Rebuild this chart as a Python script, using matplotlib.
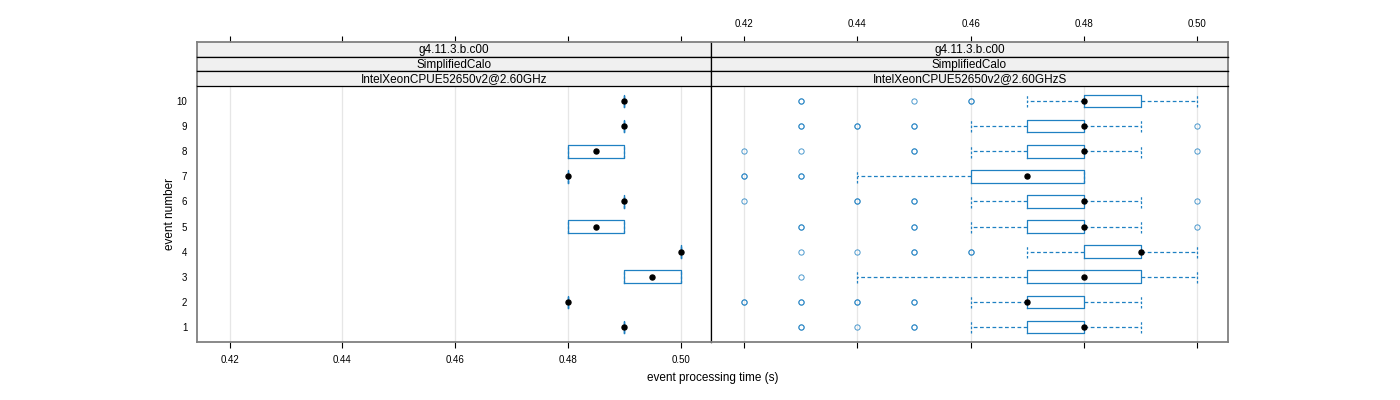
import matplotlib
matplotlib.use("Agg")
import matplotlib.pyplot as plt

plt.rcParams['font.family'] = ['Liberation Sans', 'DejaVu Sans']

# ---------------- data ----------------
events = [1, 2, 3, 4, 5, 6, 7, 8, 9, 10]
tick_values = [0.42, 0.44, 0.46, 0.48, 0.50]
tick_labels = ["0.42", "0.44", "0.46", "0.48", "0.50"]
strip_labels_left = ["g4.11.3.b.c00", "SimplifiedCalo", "IntelXeonCPUE52650v2@2.60GHz"]
strip_labels_right = ["g4.11.3.b.c00", "SimplifiedCalo", "IntelXeonCPUE52650v2@2.60GHzS"]

# left panel (per event 1..10)
left_q1 = [0.49, 0.48, 0.49, 0.50, 0.48, 0.49, 0.48, 0.48, 0.49, 0.49]
left_med = [0.49, 0.48, 0.495, 0.50, 0.485, 0.49, 0.48, 0.485, 0.49, 0.49]
left_q3 = [0.49, 0.48, 0.50, 0.50, 0.49, 0.49, 0.48, 0.49, 0.49, 0.49]

# right panel (per event 1..10)
right_lo = [0.46, 0.46, 0.44, 0.47, 0.46, 0.46, 0.44, 0.46, 0.46, 0.47]
right_q1 = [0.47, 0.47, 0.47, 0.48, 0.47, 0.47, 0.46, 0.47, 0.47, 0.48]
right_med = [0.48, 0.47, 0.48, 0.49, 0.48, 0.48, 0.47, 0.48, 0.48, 0.48]
right_q3 = [0.48, 0.48, 0.49, 0.49, 0.48, 0.48, 0.48, 0.48, 0.48, 0.49]
right_hi = [0.49, 0.49, 0.50, 0.50, 0.49, 0.49, 0.48, 0.49, 0.49, 0.50]
right_out = [
    [0.43, 0.43, 0.44, 0.45, 0.45],
    [0.42, 0.42, 0.43, 0.43, 0.44, 0.44, 0.45, 0.45],
    [0.43],
    [0.43, 0.44, 0.45, 0.45, 0.46, 0.46],
    [0.43, 0.43, 0.45, 0.45, 0.50],
    [0.42, 0.44, 0.44, 0.45, 0.45, 0.50],
    [0.42, 0.42, 0.43, 0.43],
    [0.42, 0.43, 0.45, 0.45, 0.50],
    [0.43, 0.43, 0.44, 0.44, 0.45, 0.45, 0.50],
    [0.43, 0.43, 0.45, 0.46, 0.46],
]

# ---------------- style ----------------
BLUE = "#1f80c2"
GRID = "#e6e6e6"
OUTER = "#808080"
W, H = 1400, 400
XLIM = (0.4142, 0.5054)
YLIM = (0.4, 10.6)

fig = plt.figure(figsize=(14, 4), dpi=100)

px_left, px_mid, px_right = 197, 711, 1228
py_top_strip, py_panel_top, py_panel_bot = 42, 86, 342


def fx(p):
    return p / W


def fy(p):
    return 1 - p / H


axL = fig.add_axes([fx(px_left), fy(py_panel_bot), fx(px_mid - px_left), (py_panel_bot - py_panel_top) / H])
axR = fig.add_axes([fx(px_mid), fy(py_panel_bot), fx(px_right - px_mid), (py_panel_bot - py_panel_top) / H])

box_kw = dict(
    vert=False, widths=0.5, patch_artist=False, manage_ticks=False,
    boxprops=dict(color=BLUE, linewidth=0.9),
    whiskerprops=dict(color=BLUE, linewidth=0.9, linestyle=(0, (3, 2))),
    capprops=dict(color=BLUE, linewidth=0.9, linestyle=(0, (2, 1.5))),
    medianprops=dict(visible=False),
    flierprops=dict(marker='o', markerfacecolor='none', markeredgecolor=BLUE,
                    markersize=3.8, markeredgewidth=0.7, alpha=0.8, linestyle='none'),
)

statsL = []
for i in range(len(events)):
    statsL.append(dict(med=left_med[i], q1=left_q1[i], q3=left_q3[i],
                       whislo=left_q1[i], whishi=left_q3[i], fliers=[]))
axL.bxp(statsL, positions=events, capwidths=0.5, **box_kw)
axL.plot(left_med, events, 'o', color='black', markersize=3.6, zorder=5)

statsR = []
for i in range(len(events)):
    statsR.append(dict(med=right_med[i], q1=right_q1[i], q3=right_q3[i],
                       whislo=right_lo[i], whishi=right_hi[i], fliers=right_out[i]))
axR.bxp(statsR, positions=events, capwidths=0.5, **box_kw)
axR.plot(right_med, events, 'o', color='black', markersize=3.6, zorder=5)

for ax in (axL, axR):
    ax.set_xlim(*XLIM)
    ax.set_ylim(*YLIM)
    for v in tick_values:
        ax.axvline(v, color=GRID, linewidth=0.9, zorder=0)
    ax.set_xticks(tick_values)
    ax.tick_params(axis='x', direction='out', length=4.5, width=0.8, colors='black',
                   labelsize=7, pad=5)
    for s in ax.spines.values():
        s.set_color(OUTER)
        s.set_linewidth(1.3)

axL.set_xticklabels(tick_labels)
axR.set_xticklabels([])
axL.set_yticks(events)
axL.set_yticklabels([str(e) for e in events])
axL.tick_params(axis='y', length=0, labelsize=7, pad=7)
axR.set_yticks([])
axL.spines['right'].set_color('black')
axL.spines['right'].set_linewidth(0.9)
axR.spines['left'].set_color('black')
axR.spines['left'].set_linewidth(0.9)

# strips
strip_h = (py_panel_top - py_top_strip) / 3.0
for col, (x0, x1, labels) in enumerate([(px_left, px_mid, strip_labels_left),
                                          (px_mid, px_right, strip_labels_right)]):
    for r in range(3):
        top = py_top_strip + r * strip_h
        sax = fig.add_axes([fx(x0), fy(top + strip_h), fx(x1 - x0), strip_h / H])
        sax.set_facecolor("#f0f0f0")
        sax.set_xlim(*XLIM)
        sax.set_ylim(0, 1)
        sax.set_yticks([])
        sax.text(0.5, 0.45, labels[r], transform=sax.transAxes, ha='center', va='center',
                 fontsize=8.5)
        for s in sax.spines.values():
            s.set_color('black')
            s.set_linewidth(0.9)
        sax.spines['top'].set_color(OUTER if r == 0 else 'black')
        sax.spines['top'].set_linewidth(1.3 if r == 0 else 0.9)
        if col == 0:
            sax.spines['left'].set_color(OUTER)
            sax.spines['left'].set_linewidth(1.3)
        else:
            sax.spines['right'].set_color(OUTER)
            sax.spines['right'].set_linewidth(1.3)
        if r == 0:
            sax.set_xticks(tick_values)
            sax.xaxis.set_ticks_position('top')
            sax.tick_params(axis='x', direction='out', length=4.5, width=0.8,
                            labelsize=7, pad=5, labeltop=(col == 1), labelbottom=False)
            if col == 1:
                sax.set_xticklabels(tick_labels)
            else:
                sax.set_xticklabels([])
        else:
            sax.set_xticks([])

fig.text(fx((px_left + px_right) / 2), fy(378), "event processing time (s)",
         ha='center', va='center', fontsize=8.5)
fig.text(fx(170), fy(214), "event number", ha='center', va='center',
         rotation=90, fontsize=8.5)

fig.savefig("out.png", dpi=100)
